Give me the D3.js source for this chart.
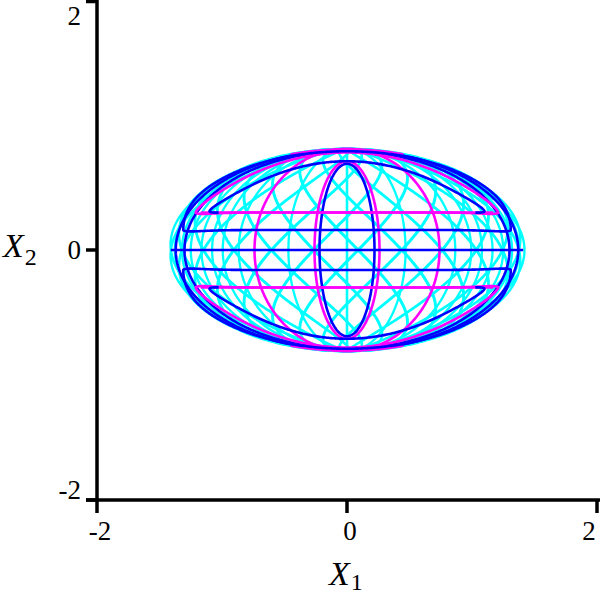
<!DOCTYPE html>
<html>
<head>
<meta charset="utf-8">
<script src="https://cdn.jsdelivr.net/npm/d3@7"></script>
<style>
  body { margin: 0; background: #fff; }
</style>
</head>
<body>
<div id="chart"></div>
<script>
// ticks on both axes
const xTicks = [-2, 0, 2];
const yTicks = [-2, 0, 2];

// outline of the orbit region (semi axes)
const outline = [1.42, 0.81];

// cyan orbit: frequencies and phases in the (s, t) box
const cyanFreq = [14, 25];
const cyanPhase = [0.06, 0.0];
const cyanMeridians = [0, 0.33, 0.61, 0.70, 0.76, 0.82, 0.88, 0.93, 0.97];

// magenta orbit
const magentaEllipses = [[0.26, 0.71], [0.74, 0.81]];
const magentaLevels = [0.30];
const magentaHalfWidths = [1.17];
const magentaCaps = [{ h: 0.30, w: 1.21, top: 0.78, q: 0.9, chord: true }];
const magentaRim = 0.45;

// blue orbit
const blueInner = [[0.22, 0.69]];
const blueEllipses = [[1.30, 0.79], [1.37, 0.80]];
const blueLevels = [0];
const blueHalfWidths = [1.41];
const blueCaps = [
  { h: 0.16, w: 1.31, top: 0.79, q: 0.5, chord: true },
  { h: 0.31, w: 1.10, top: 0.71, q: 1.0, chord: false }
];

const width = 600, height = 600;

const svg = d3.select("#chart")
  .append("svg")
  .attr("width", width)
  .attr("height", height)
  .style("font-family", "'Liberation Serif', 'DejaVu Serif', serif");

const x = d3.scaleLinear().domain([-2, 2]).range([97, 597]);
const y = d3.scaleLinear().domain([-2, 2]).range([500, 0]);

const gapLine = d3.line().defined(d => d !== null).x(d => x(d[0])).y(d => y(d[1]));

// (s, t) box -> ellipse region
function toPlane(s, t) {
  return [outline[0] * s * Math.sqrt(Math.max(0, 1 - t * t)), outline[1] * t];
}

function ellipsePts(rx, ry, n = 400) {
  return d3.range(n + 1).map(i => {
    const a = 2 * Math.PI * i / n;
    return [rx * Math.cos(a), ry * Math.sin(a)];
  });
}

// closed loop: flat chord at h, arc up to top, rounded tips
function capPts(c, sign, n = 600) {
  const pts = [];
  d3.range(n + 1).forEach(i => {
    const a = Math.PI * 0.35 + 2 * Math.PI * i / n;
    const sn = Math.sin(a), cs = Math.cos(a);
    if (!c.chord && sn < 0 && Math.abs(cs) < 0.93) { pts.push(null); return; }
    const up = sn > 0 ? Math.pow(sn, 2 * c.q) : 0;
    const yy = c.h + (c.top - c.h) * up + 0.06 * sn * Math.pow(Math.abs(cs), 10);
    pts.push([c.w * cs, sign * yy]);
  });
  return pts;
}

function draw(pts, color, w = 2.6) {
  svg.append("path")
    .datum(pts)
    .attr("d", gapLine)
    .attr("fill", "none")
    .attr("stroke", color)
    .attr("stroke-width", w)
    .attr("stroke-linejoin", "round");
}

const cyan = "#00ffff", magenta = "#ff00ff", blue = "#0000ff";

// cyan orbit
const nLis = 24000;
draw(d3.range(nLis + 1).map(i => {
  const tau = 2 * Math.PI * i / nLis;
  return toPlane(Math.sin(cyanFreq[0] * tau + cyanPhase[0]),
                 Math.sin(cyanFreq[1] * tau + cyanPhase[1]));
}), cyan, 2.3);
cyanMeridians.forEach(s => {
  [s, -s].forEach(v => draw(d3.range(201).map(i => toPlane(v, -1 + i / 100)), cyan, 2.3));
});

// blue orbit, outer part and inner loop (under magenta)
blueEllipses.forEach(e => draw(ellipsePts(e[0], e[1]), blue));
blueInner.forEach(e => draw(ellipsePts(e[0], e[1]), blue));

// magenta orbit
magentaEllipses.forEach(e => draw(ellipsePts(e[0], e[1]), magenta));
magentaLevels.forEach((lv, i) => {
  [lv, -lv].forEach(v => draw([[-magentaHalfWidths[i], v], [magentaHalfWidths[i], v]], magenta));
});
[1, -1].forEach(sg => {
  draw(d3.range(101).map(i => {
    const xx = -magentaRim + 2 * magentaRim * i / 100;
    return [xx, sg * (outline[1] - 0.01) * Math.sqrt(1 - (xx / outline[0]) ** 2)];
  }), magenta, 4);
});
magentaCaps.forEach(c => { draw(capPts(c, 1), magenta); draw(capPts(c, -1), magenta); });

// blue orbit, level line and loops
blueLevels.forEach((lv, i) => draw([[-blueHalfWidths[i], lv], [blueHalfWidths[i], lv]], blue));
blueCaps.forEach(c => { draw(capPts(c, 1), blue); draw(capPts(c, -1), blue); });

// axes
svg.append("line")
  .attr("x1", x(-2)).attr("x2", x(-2))
  .attr("y1", y(2)).attr("y2", y(-2) + 2)
  .attr("stroke", "#000").attr("stroke-width", 3.5);
svg.append("line")
  .attr("x1", x(-2) - 11).attr("x2", x(2) + 3)
  .attr("y1", y(-2)).attr("y2", y(-2))
  .attr("stroke", "#000").attr("stroke-width", 3.5);

svg.selectAll(".xtick")
  .data(xTicks)
  .enter().append("line")
  .attr("x1", d => x(d)).attr("x2", d => x(d))
  .attr("y1", y(-2)).attr("y2", y(-2) + 13)
  .attr("stroke", "#000").attr("stroke-width", 3.5);

svg.selectAll(".ytick")
  .data(yTicks)
  .enter().append("line")
  .attr("x1", x(-2) - 11).attr("x2", x(-2))
  .attr("y1", d => y(d) + (d === 2 ? 1.5 : 0)).attr("y2", d => y(d) + (d === 2 ? 1.5 : 0))
  .attr("stroke", "#000").attr("stroke-width", 3.5);

svg.selectAll(".xlab")
  .data(xTicks)
  .enter().append("text")
  .attr("x", d => d === 2 ? x(d) - 8 : x(d) + 3)
  .attr("y", 540)
  .attr("text-anchor", "middle")
  .style("font-size", "27px")
  .text(d => d);

svg.selectAll(".ylab")
  .data(yTicks)
  .enter().append("text")
  .attr("x", 81)
  .attr("y", d => d === 2 ? 25 : d === -2 ? 499 : y(d) + 9)
  .attr("text-anchor", "end")
  .style("font-size", "27px")
  .text(d => d);

// axis titles
const t1 = svg.append("text").attr("x", 329).attr("y", 585).style("font-size", "34px");
t1.append("tspan").style("font-style", "italic").text("X");
t1.append("tspan").style("font-size", "24px").attr("dy", 5).attr("dx", 1).text("1");

const t2 = svg.append("text").attr("x", 3).attr("y", 257).style("font-size", "34px");
t2.append("tspan").style("font-style", "italic").text("X");
t2.append("tspan").style("font-size", "24px").attr("dy", 8).attr("dx", 1).text("2");
</script>
</body>
</html>
